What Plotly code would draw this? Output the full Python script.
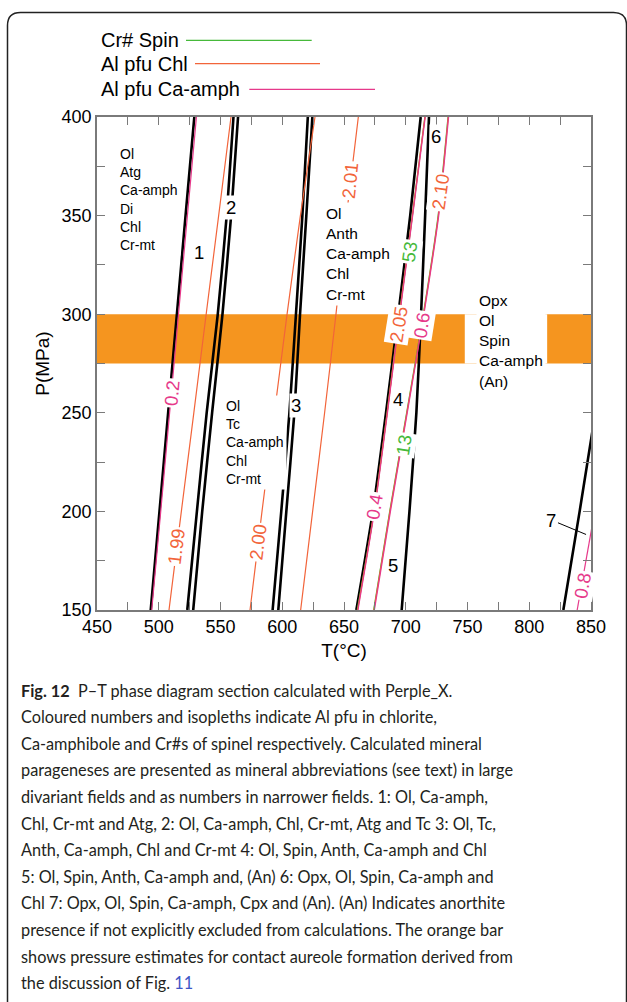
import plotly.graph_objects as go

# ---------------- data ----------------
P_GRID = [150, 200, 250, 300, 350, 400]

# phase boundaries (black), T (°C) at P_GRID
B1 = [493.5, 500.6, 507.6, 514.7, 521.7, 528.8]
B2A = [523.1, 530.9, 538.8, 547.8, 555.0, 560.5]
B2B = [527.9, 535.2, 543.2, 551.6, 558.6, 564.2]
B3A = [592.2, 599.2, 605.8, 611.1, 616.3, 620.7]
B3B = [596.8, 603.3, 609.8, 614.4, 619.5, 624.4]
B4 = [660.0, 673.4, 684.0, 694.0, 703.6, 712.1]
B5 = [696.7, 703.0, 708.6, 712.4, 715.7, 718.8]
P_B7 = [150, 200, 250]
B7 = [827.6, 840.8, 853.5]

# Al pfu Ca-amph isopleths
CAAMPH_02 = [494.3, 501.6, 508.8, 516.0, 523.2, 530.5]
CAAMPH_04 = [661.3, 674.6, 685.2, 695.2, 705.6, 715.8]
CAAMPH_06 = [674.6, 687.6, 701.2, 714.7, 726.7, 734.7]
P_CAAMPH_08 = [150, 200]
CAAMPH_08 = [838.8, 853.0]

# Al pfu Chl isopleths
CHL_199 = [508.3, 518.3, 528.4, 538.4, 548.5, 558.5]
CHL_200 = [573.9, 583.6, 593.7, 603.9, 614.7, 626.5]
CHL_201 = [614.9, 624.6, 634.3, 643.5, 652.0, 661.6]
CHL_205 = [661.0, 674.3, 684.9, 694.9, 705.3, 715.5]
CHL_210 = [674.2, 687.2, 700.9, 714.4, 726.4, 734.4]

# Cr# spinel isopleths
SPIN_53 = [660.7, 674.4, 684.9, 694.9, 705.4, 715.5]
SPIN_13 = [674.0, 687.0, 700.7, 714.2, 726.2, 734.2]

# orange bar (pressure estimate)
BAR_P = [275, 300]
BAR_GAP_T = [747.8, 814.5]

LEGEND_NAMES = ["Cr# Spin", "Al pfu Chl", "Al pfu Ca-amph"]

# isopleth labels: text, T, P, series, angle
ISO_LABELS = [
    ("0.2", 510.5, 259.9, "amph", -85),
    ("1.99", 514.5, 182.0, "chl", -83),
    ("2.00", 580.6, 184.6, "chl", -83),
    ("2.01", 654.9, 367.8, "chl", -84),
    ("2.05", 694.0, 295.0, "chl", -81),
    ("0.6", 712.9, 294.3, "amph", -81),
    ("53", 702.7, 331.5, "spin", -82),
    ("2.10", 728.5, 362.0, "chl", -82),
    ("13", 698.5, 234.0, "spin", -81),
    ("0.4", 675.0, 202.3, "amph", -80),
    ("0.8", 843.0, 162.6, "amph", -80),
]

FIELD_NUMBERS = [("1", 532.8, 331.1), ("2", 558.5, 354.1), ("3", 610.9, 253.9),
                 ("4", 694.0, 256.8), ("5", 690.0, 172.8), ("6", 724.5, 389.9)]
FIELD7 = ("7", 818.0, 195.6, 846.0, 188.3)

BLOCKS = [
    (["Ol", "Atg", "Ca-amph", "Di", "Chl", "Cr-mt"], 466.0, 381.4, 14),
    (["Ol", "Tc", "Ca-amph", "Chl", "Cr-mt"], 552.3, 253.5, 14),
    (["Ol", "Anth", "Ca-amph", "Chl", "Cr-mt"], 633.3, 351.0, 15.5),
    (["Opx", "Ol", "Spin", "Ca-amph", "(An)"], 756.6, 306.7, 15.5),
]

CAPTION = [
    "<b>Fig. 12</b>  P–T phase diagram section calculated with Perple_X.",
    "Coloured numbers and isopleths indicate Al pfu in chlorite,",
    "Ca-amphibole and Cr#s of spinel respectively. Calculated mineral",
    "parageneses are presented as mineral abbreviations (see text) in large",
    "divariant fields and as numbers in narrower fields. 1: Ol, Ca-amph,",
    "Chl, Cr-mt and Atg, 2: Ol, Ca-amph, Chl, Cr-mt, Atg and Tc 3: Ol, Tc,",
    "Anth, Ca-amph, Chl and Cr-mt 4: Ol, Spin, Anth, Ca-amph and Chl",
    "5: Ol, Spin, Anth, Ca-amph and, (An) 6: Opx, Ol, Spin, Ca-amph and",
    "Chl 7: Opx, Ol, Spin, Ca-amph, Cpx and (An). (An) Indicates anorthite",
    "presence if not explicitly excluded from calculations. The orange bar",
    "shows pressure estimates for contact aureole formation derived from",
    "the discussion of Fig. <span style='color:#3d55c6'>11</span>",
]

# ---------------- style ----------------
C_SPIN = "#46b93a"
C_CHL = "#f2643a"
C_AMPH = "#e6398a"
C_BAR = "#f5951f"
AX = "#7a7a7a"
FONT = "Liberation Sans, Arial, sans-serif"
COL = {"spin": C_SPIN, "chl": C_CHL, "amph": C_AMPH}

W, H = 627, 1002
L, R, T, B = 97, 591, 117, 610


def fx(px):
    return (px - L) / (R - L)


def fy(py):
    return (B - py) / (B - T)


fig = go.Figure()


def line(x, y, color, width):
    fig.add_trace(go.Scatter(x=x, y=y, mode="lines", line=dict(color=color, width=width, shape="spline", smoothing=0.6),
                             hoverinfo="skip", showlegend=False))


for b in [B1, B2A, B2B, B3A, B3B, B4, B5]:
    line(b, P_GRID, "black", 2.6)
line(B7, P_B7, "black", 2.6)

for s in [SPIN_53, SPIN_13]:
    line(s, P_GRID, C_SPIN, 1.2)
for s in [CHL_199, CHL_200, CHL_201, CHL_205, CHL_210]:
    line(s, P_GRID, C_CHL, 1.2)
for s in [CAAMPH_02, CAAMPH_04, CAAMPH_06]:
    line(s, P_GRID, C_AMPH, 1.2)
line(CAAMPH_08, P_CAAMPH_08, C_AMPH, 1.2)

shapes = []
shapes.append(dict(type="rect", xref="x", yref="y", x0=450, x1=850, y0=BAR_P[0], y1=BAR_P[1],
                   fillcolor=C_BAR, line=dict(width=0), layer="below"))
shapes.append(dict(type="rect", xref="x", yref="y", x0=BAR_GAP_T[0], x1=BAR_GAP_T[1], y0=BAR_P[0], y1=BAR_P[1],
                   fillcolor="white", line=dict(width=0), layer="below"))

# frame
fl, ft, fr, fb, rr = 7.5, 12.5, 626.5, 1010, 13
path = (f"M {fx(fl)},{fy(fb)} L {fx(fl)},{fy(ft+rr)} Q {fx(fl)},{fy(ft)} {fx(fl+rr)},{fy(ft)} "
        f"L {fx(fr-rr)},{fy(ft)} Q {fx(fr)},{fy(ft)} {fx(fr)},{fy(ft+rr)} L {fx(fr)},{fy(fb)}")
shapes.append(dict(type="path", xref="paper", yref="paper", path=path, line=dict(color="#222", width=1.5)))

ann = []
# legend
leg_y = [40.3, 63.7, 89.3]
leg_lines = [(186, 311.7), (195, 320), (249.3, 375)]
for name, yy, (x0, x1), c in zip(LEGEND_NAMES, leg_y, leg_lines, [C_SPIN, C_CHL, C_AMPH]):
    ann.append(dict(xref="paper", yref="paper", x=fx(99), y=fy(yy), xanchor="left", yanchor="middle",
                    text=name, showarrow=False, font=dict(family=FONT, size=20, color="black")))
    shapes.append(dict(type="line", xref="paper", yref="paper", x0=fx(x0), x1=fx(x1), y0=fy(yy), y1=fy(yy),
                       line=dict(color=c, width=1.3)))

for txt, tt, pp, ser, ang in ISO_LABELS:
    ann.append(dict(x=tt, y=pp, text=txt, showarrow=False, textangle=ang, bgcolor="white", borderpad=1,
                    font=dict(family=FONT, size=18.5, color=COL[ser])))

for txt, tt, pp in FIELD_NUMBERS:
    ann.append(dict(x=tt, y=pp, text=txt, showarrow=False, bgcolor="white", borderpad=1,
                    font=dict(family=FONT, size=18.5, color="black")))
t7, tx7, py7, ax7, ay7 = FIELD7
ann.append(dict(x=ax7, y=ay7, text=t7, showarrow=True, arrowhead=0, arrowwidth=1, arrowcolor="black",
                ax=tx7, ay=py7, axref="x", ayref="y", font=dict(family=FONT, size=18.5, color="black")))

for lines_, tt, pp, fs in BLOCKS:
    ann.append(dict(x=tt, y=pp, text="<br>".join(lines_), showarrow=False, align="left", xanchor="left",
                    yanchor="middle", yshift=-(len(lines_) - 1) * fs * 1.3 / 2, bgcolor="white", borderpad=2,
                    font=dict(family=FONT, size=fs, color="black")))

cap_font = "Lato, sans-serif"
for i, s in enumerate(CAPTION):
    ann.append(dict(xref="paper", yref="paper", x=fx(19), y=fy(690 + i * 26.6), xanchor="left", yanchor="middle",
                    text=s, showarrow=False, font=dict(family=cap_font, size=16.3, color="#231f20")))

fig.update_layout(
    width=W, height=H, autosize=False,
    margin=dict(l=L, r=W - R, t=T, b=H - B),
    paper_bgcolor="white", plot_bgcolor="white",
    shapes=shapes, annotations=ann,
    xaxis=dict(range=[450, 850], tickvals=list(range(450, 851, 25)),
               ticktext=[str(v) if v % 50 == 0 else "" for v in range(450, 851, 25)],
               ticks="inside", ticklen=8, tickwidth=1.3, tickcolor=AX, showline=True, linecolor=AX, linewidth=1.5,
               mirror="ticks", showgrid=False, zeroline=False,
               tickfont=dict(family=FONT, size=18, color="black"),
               title=dict(text="T(°C)", font=dict(family=FONT, size=19, color="black"), standoff=7)),
    yaxis=dict(range=[150, 400], tickvals=list(range(150, 401, 25)),
               ticktext=[str(v) if v % 50 == 0 else "" for v in range(150, 401, 25)],
               ticks="inside", ticklen=8, tickwidth=1.3, tickcolor=AX, showline=True, linecolor=AX, linewidth=1.5,
               mirror="ticks", showgrid=False, zeroline=False,
               tickfont=dict(family=FONT, size=18, color="black"),
               title=dict(text="P(MPa)", font=dict(family=FONT, size=19, color="black"), standoff=7)),
)

fig.write_html("out.html", config={"displayModeBar": False},
               post_script="document.body.style.margin='0';document.body.style.overflow='hidden';")
